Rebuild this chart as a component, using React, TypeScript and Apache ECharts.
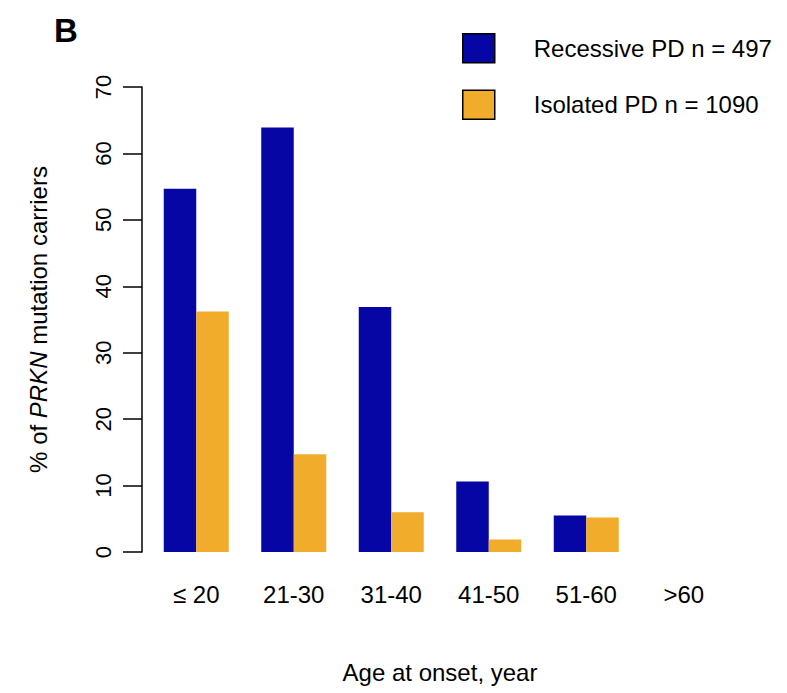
import React, { useEffect, useRef } from "react";
import * as echarts from "echarts";

const categories = ["≤ 20", "21-30", "31-40", "41-50", "51-60", ">60"];
const recessive = [54.7, 63.9, 36.9, 10.6, 5.5, 0];
const isolated = [36.2, 14.7, 6.0, 1.9, 5.2, 0];
const seriesNames = ["Recessive PD n = 497", "Isolated PD n = 1090"];
const yTicks = { min: 0, max: 70, interval: 10 };

const FONT = "'Liberation Sans', Arial, Helvetica, sans-serif";
const BLUE = "#0606a5";
const ORANGE = "#f0ac2a";

export default function App() {
  const ref = useRef<HTMLDivElement>(null);
  useEffect(() => {
    document.body.style.margin = "0";
    const chart = echarts.init(ref.current!, null, { renderer: "svg" });
    chart.setOption({
      animation: false,
      backgroundColor: "#ffffff",
      textStyle: { fontFamily: FONT, color: "#000" },
      grid: { left: 147.5, width: 585, top: 87, bottom: 141, containLabel: false },
      legend: {
        orient: "vertical",
        left: 462,
        top: 33,
        padding: 0,
        itemWidth: 32,
        itemHeight: 29,
        itemGap: 26,
        icon: "rect",
        selectedMode: false,
        itemStyle: { borderColor: "#000", borderWidth: 1.5 },
        textStyle: { fontSize: 24, fontFamily: FONT, color: "#000", padding: [0, 0, 0, 34] },
        data: seriesNames,
      },
      xAxis: {
        type: "category",
        data: categories,
        axisLine: { show: false },
        axisTick: { show: false },
        axisLabel: { fontSize: 24, color: "#000", margin: 30, fontFamily: FONT },
        name: "Age at onset, year",
        nameLocation: "middle",
        nameGap: 108,
        nameTextStyle: { fontSize: 24, color: "#000", fontFamily: FONT },
      },
      yAxis: {
        type: "value",
        min: yTicks.min,
        max: yTicks.max,
        interval: yTicks.interval,
        offset: 5.5,
        splitLine: { show: false },
        axisLine: { show: true, lineStyle: { color: "#000", width: 1.5 } },
        axisTick: { show: true, length: 19, lineStyle: { color: "#000", width: 1.5 } },
        axisLabel: { fontSize: 22, color: "#000", rotate: 90, margin: 28, fontFamily: FONT },
        name: "% of {i|PRKN} mutation carriers",
        nameLocation: "middle",
        nameRotate: 90,
        nameGap: 92,
        nameTextStyle: {
          fontSize: 24,
          color: "#000",
          fontFamily: FONT,
          rich: { i: { fontStyle: "italic", fontSize: 24, fontFamily: FONT, color: "#000" } },
        },
      },
      series: [
        {
          name: seriesNames[0],
          type: "bar",
          data: recessive,
          barGap: "0%",
          barCategoryGap: "33.333%",
          itemStyle: { color: BLUE },
        },
        {
          name: seriesNames[1],
          type: "bar",
          data: isolated,
          barGap: "0%",
          barCategoryGap: "33.333%",
          itemStyle: { color: ORANGE },
        },
      ],
      graphic: [
        {
          type: "text",
          left: 54,
          top: 14,
          style: { text: "B", font: `bold 33px ${FONT}`, fill: "#000" },
        },
      ],
    });
    return () => chart.dispose();
  }, []);
  return <div ref={ref} style={{ width: 787, height: 693 }} />;
}
